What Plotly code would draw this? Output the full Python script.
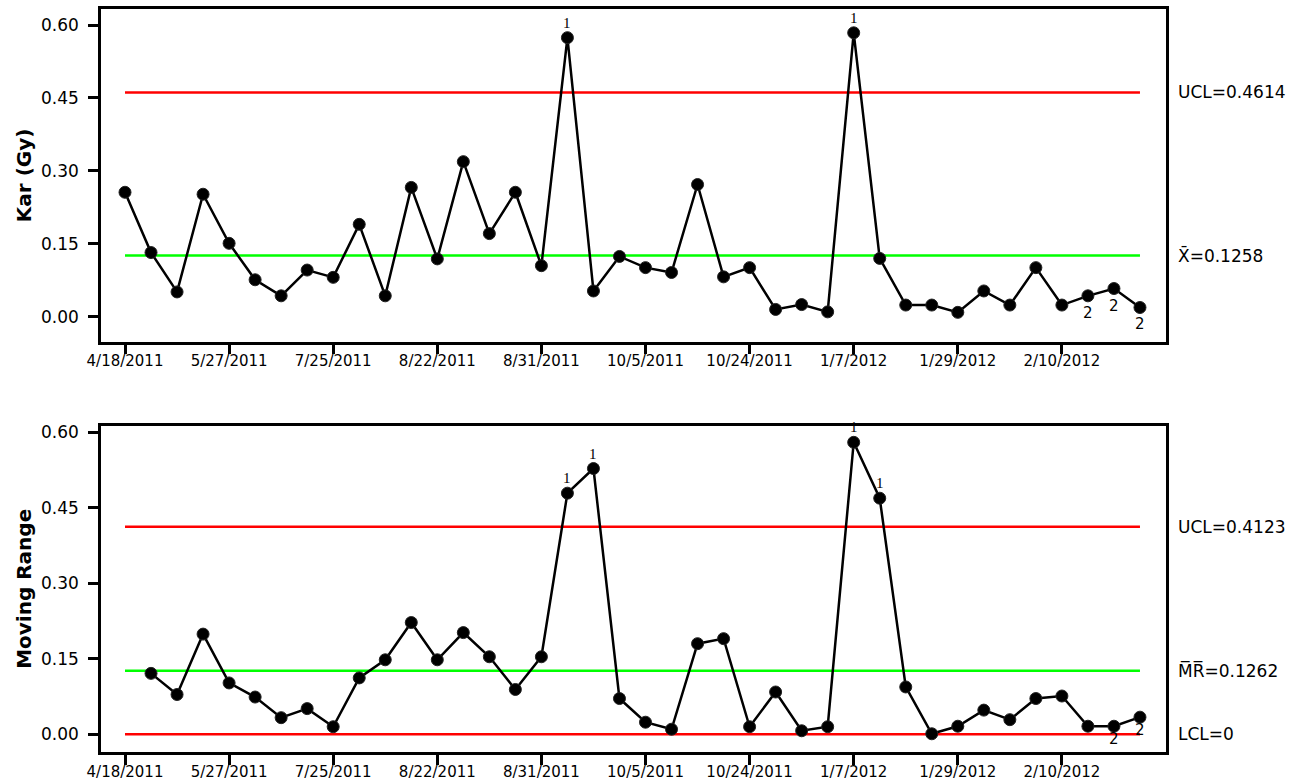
import plotly.graph_objects as go

# ---- data ----
tick_positions = [1, 5, 9, 13, 17, 21, 25, 29, 33, 37]
tick_labels = ["4/18/2011", "5/27/2011", "7/25/2011", "8/22/2011", "8/31/2011",
               "10/5/2011", "10/24/2011", "1/7/2012", "1/29/2012", "2/10/2012"]

obs = list(range(1, 41))
kar = [0.256, 0.132, 0.051, 0.252, 0.151, 0.076, 0.043, 0.096, 0.081, 0.190,
       0.043, 0.266, 0.119, 0.319, 0.171, 0.256, 0.105, 0.574, 0.053, 0.124,
       0.101, 0.091, 0.272, 0.082, 0.101, 0.015, 0.025, 0.010, 0.584, 0.120,
       0.024, 0.024, 0.009, 0.053, 0.024, 0.101, 0.024, 0.043, 0.058, 0.019]

mr_obs = list(range(2, 41))
mr = [0.121, 0.079, 0.199, 0.102, 0.074, 0.033, 0.051, 0.015, 0.112, 0.148,
      0.222, 0.148, 0.202, 0.154, 0.089, 0.154, 0.479, 0.528, 0.071, 0.024,
      0.010, 0.180, 0.190, 0.015, 0.084, 0.007, 0.015, 0.580, 0.469, 0.094,
      0.001, 0.016, 0.048, 0.029, 0.071, 0.076, 0.016, 0.016, 0.034]

UCL_X = 0.4614
XBAR = 0.1258
UCL_MR = 0.4123
MRBAR = 0.1262
LCL_MR = 0.0

flag1_x = [18, 29]
flag2_x = [38, 39, 40]
flag1_mr = [18, 19, 29, 30]
flag2_mr = [39, 40]

y_ticks = [0.0, 0.15, 0.30, 0.45, 0.60]

FONT = "DejaVu Sans"
RED = "#FF0000"
GREEN = "#00FF00"

fig = go.Figure()

def hline(val, color, xa, ya):
    fig.add_trace(go.Scatter(x=[obs[0], obs[-1]], y=[val, val], mode="lines",
                             line=dict(color=color, width=2.5),
                             xaxis=xa, yaxis=ya, hoverinfo="skip", showlegend=False))

hline(UCL_X, RED, "x", "y")
hline(XBAR, GREEN, "x", "y")
hline(UCL_MR, RED, "x2", "y2")
hline(MRBAR, GREEN, "x2", "y2")
hline(LCL_MR, RED, "x2", "y2")

marker = dict(symbol="circle", size=12, color="black",
              line=dict(color="#222222", width=1))

fig.add_trace(go.Scatter(x=obs, y=kar, mode="lines+markers",
                         line=dict(color="black", width=2.5), marker=marker,
                         xaxis="x", yaxis="y", showlegend=False))
fig.add_trace(go.Scatter(x=mr_obs, y=mr, mode="lines+markers",
                         line=dict(color="black", width=2.5), marker=marker,
                         xaxis="x2", yaxis="y2", showlegend=False))

ann = []
for xi in flag1_x:
    ann.append(dict(x=xi, y=kar[obs.index(xi)], xref="x", yref="y", text="1",
                    showarrow=False, yshift=15, font=dict(family="Liberation Serif", size=15, color="black")))
for xi in flag2_x:
    ann.append(dict(x=xi, y=kar[obs.index(xi)], xref="x", yref="y", text="2",
                    showarrow=False, yshift=-17, font=dict(family=FONT, size=15, color="black")))
for xi in flag1_mr:
    ann.append(dict(x=xi, y=mr[mr_obs.index(xi)], xref="x2", yref="y2", text="1",
                    showarrow=False, yshift=15, font=dict(family="Liberation Serif", size=15, color="black")))
for xi in flag2_mr:
    ann.append(dict(x=xi, y=mr[mr_obs.index(xi)], xref="x2", yref="y2", text="2",
                    showarrow=False, yshift=-13, font=dict(family=FONT, size=15, color="black")))

right_labels = [
    ("UCL=%.4f" % UCL_X, UCL_X, "y"),
    ("X\u0304=%.4f" % XBAR, XBAR, "y"),
    ("UCL=%.4f" % UCL_MR, UCL_MR, "y2"),
    ("M\u0305R\u0305=%.4f" % MRBAR, MRBAR, "y2"),
    ("LCL=%g" % LCL_MR, LCL_MR, "y2"),
]
for txt, val, yr in right_labels:
    ann.append(dict(x=1.009, y=val, xref="paper", yref=yr, text=txt, xanchor="left",
                    yanchor="middle", showarrow=False,
                    font=dict(family=FONT, size=17, color="black")))

fig.update_layout(annotations=ann)

xcommon = dict(range=[0.078, 41.0], tickmode="array", tickvals=tick_positions,
               ticktext=tick_labels, ticks="outside", ticklen=10, tickwidth=2.5,
               tickcolor="black", showline=True, linecolor="black", linewidth=2.5,
               mirror=True, showgrid=False, zeroline=False, automargin=False,
               ticklabelstandoff=-6,
               tickfont=dict(family=FONT, size=15, color="black"))
ycommon = dict(tickmode="array", tickvals=y_ticks, tickformat=".2f",
               ticks="outside", ticklen=10, tickwidth=2.5, tickcolor="black",
               showline=True, linecolor="black", linewidth=2.5, mirror=True,
               showgrid=False, zeroline=False, automargin=False,
               ticklabelstandoff=6,
               tickfont=dict(family=FONT, size=17, color="black"))

fig.update_layout(
    width=1311, height=782,
    margin=dict(l=101, r=145, t=9, b=30),
    paper_bgcolor="white", plot_bgcolor="white",
    xaxis=dict(xcommon, anchor="y", domain=[0, 1]),
    yaxis=dict(ycommon, range=[-0.0514, 0.633], domain=[0.5522, 1.0], anchor="x",
               title=dict(text="<b>Kar (Gy)</b>", font=dict(family=FONT, size=20, color="black"), standoff=4)),
    xaxis2=dict(xcommon, anchor="y2", domain=[0, 1]),
    yaxis2=dict(ycommon, range=[-0.0352, 0.6131], domain=[0.0, 0.4392], anchor="x2",
                title=dict(text="<b>Moving Range</b>", font=dict(family=FONT, size=20, color="black"), standoff=4)),
)

fig.write_html("out.html")
